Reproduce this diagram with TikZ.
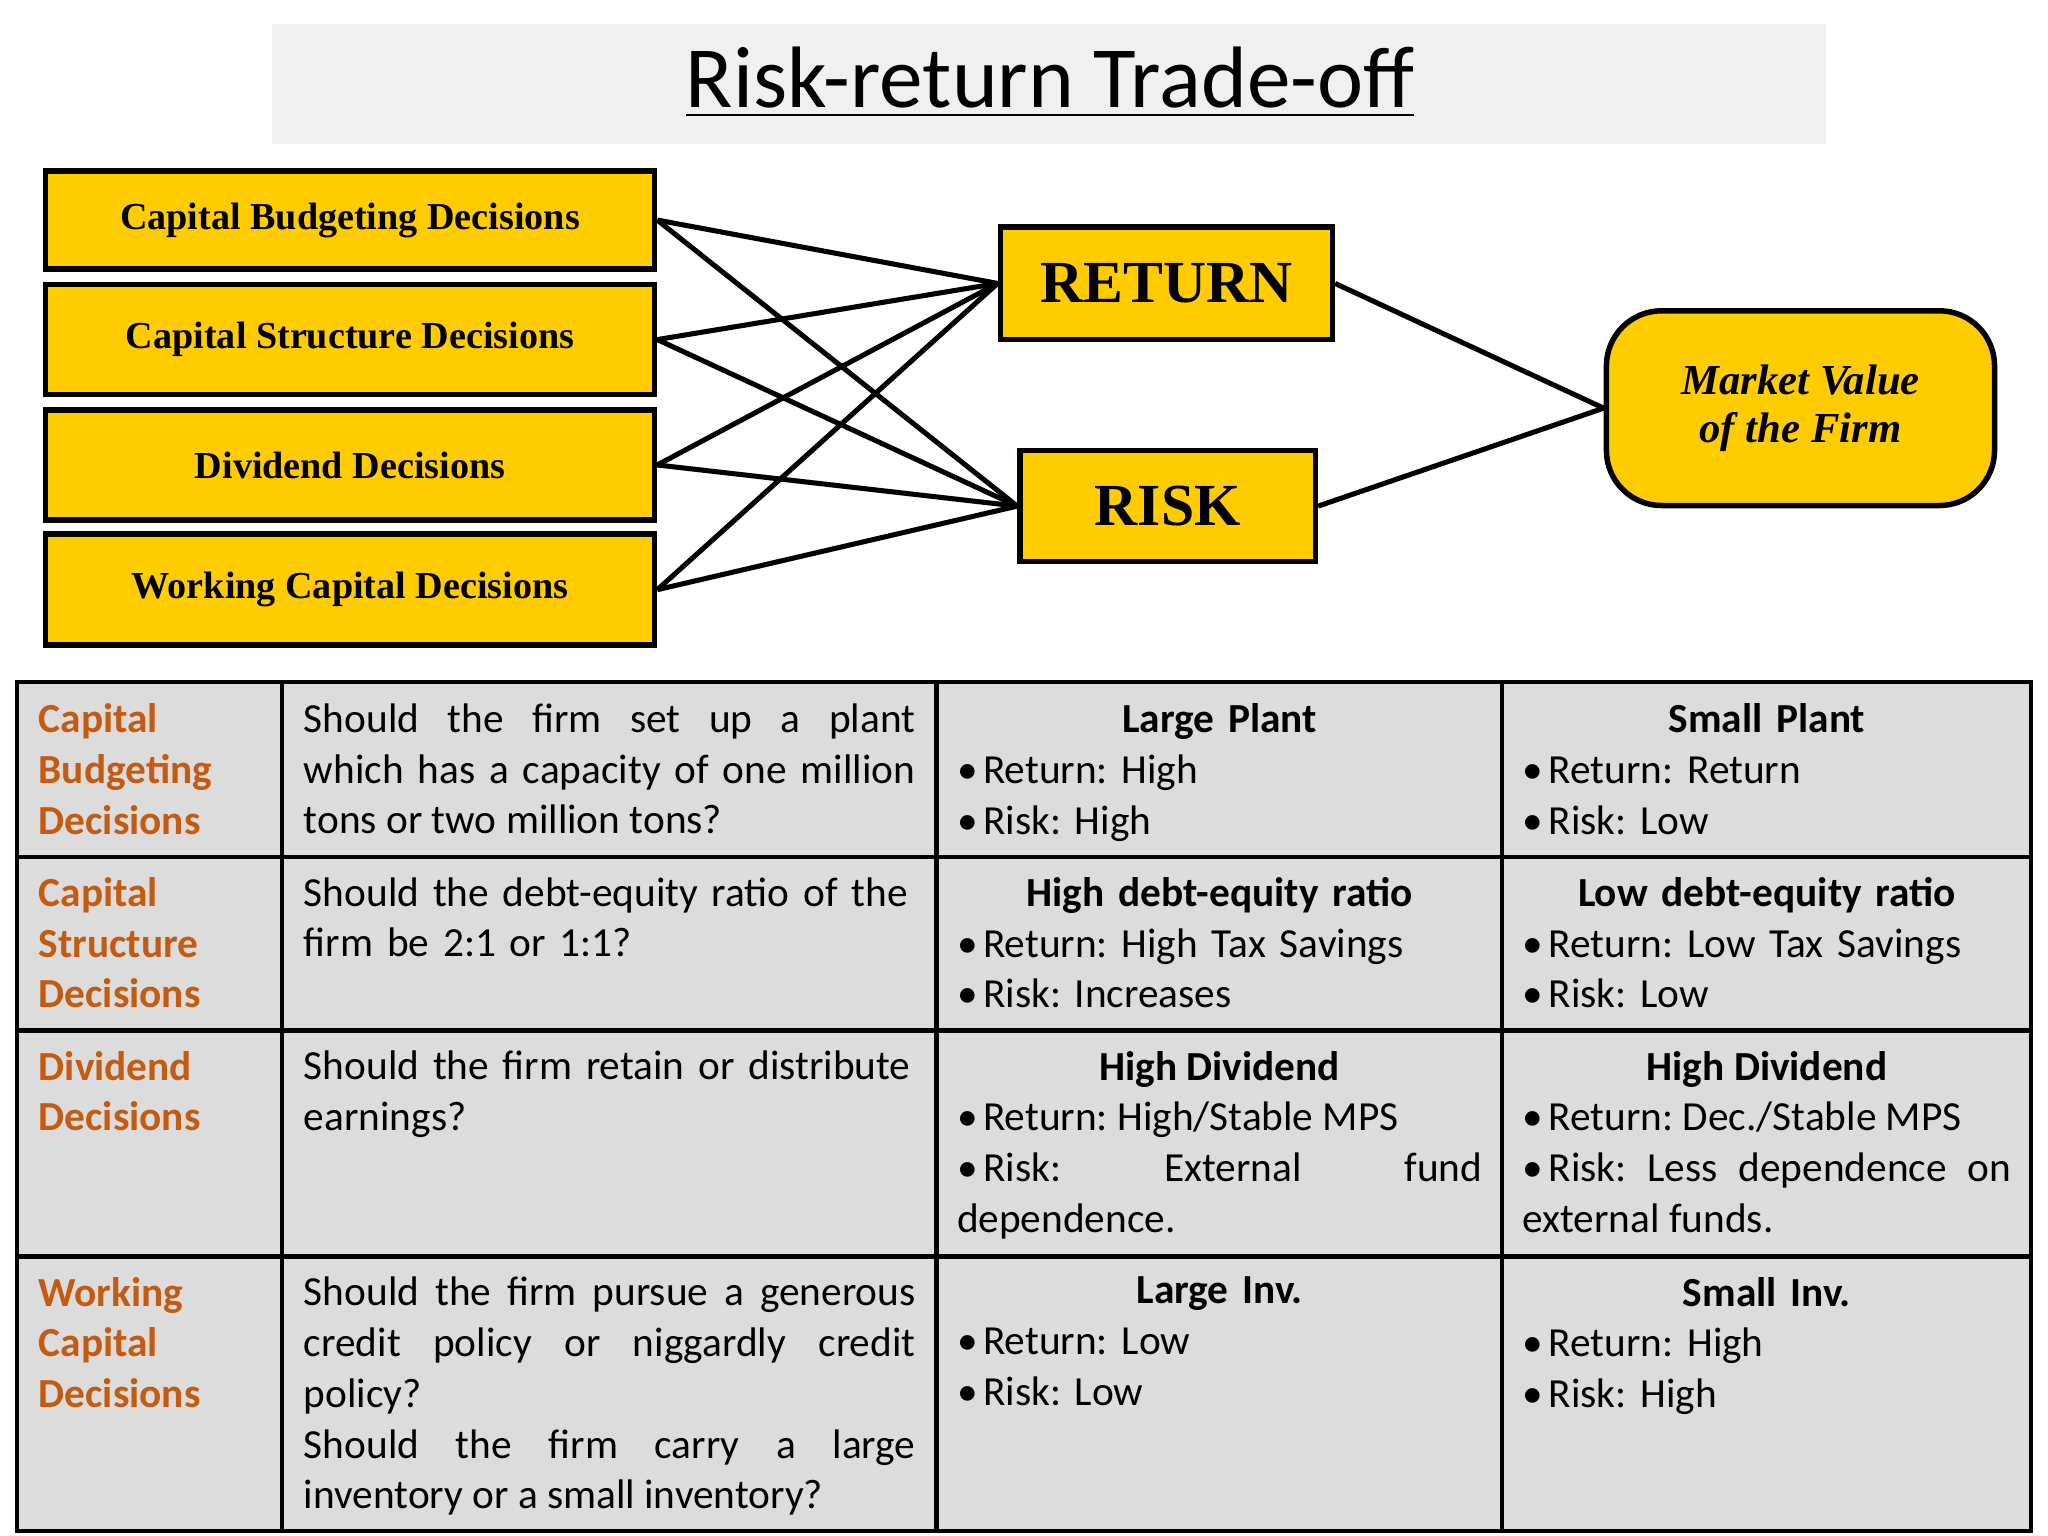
\documentclass[tikz,border=0pt]{standalone}
\usepackage{fontspec}
\setmainfont{Carlito}
\newfontfamily\boxfont{Liberation Serif}
\usetikzlibrary{positioning}
\definecolor{ybox}{HTML}{FFCC00}
\definecolor{cellgray}{HTML}{DCDCDD}
\definecolor{orng}{HTML}{C55A11}
\frenchspacing
\hyphenpenalty=10000 \exhyphenpenalty=10000
\newcommand{\bul}[1]{\par\hangindent=2mm\hangafter=1\noindent\makebox[2mm][l]{•}#1}
\newcommand{\hd}[1]{\noindent\makebox[\linewidth][c]{\textbf{#1}}}
\tikzset{
  ybx/.style={draw=black,line width=1.2pt,fill=ybox,inner sep=0pt,font=\boxfont\bfseries},
  conn/.style={line width=1.1pt},
  cell/.style={anchor=north west,inner sep=0pt,font=\fontsize{9}{11.06}\selectfont},
}
\begin{document}
\begin{tikzpicture}[x=0.01cm,y=-0.01cm]
\useasboundingbox (0,0) rectangle (1568,1176);
\fill[white] (0,0) rectangle (1568,1176);
% title
\fill[black!6] (208,18) rectangle (1398,110);
\node[font=\fontsize{19}{23}\selectfont] (title) at (804,63) {\underline{Risk-return Trade-off}};
% boxes
\node[ybx,minimum width=4.66cm,minimum height=0.75cm,font=\boxfont\bfseries\fontsize{8.3}{10}\selectfont] (b1) at (268,168.5) {Capital Budgeting Decisions};
\node[ybx,minimum width=4.66cm,minimum height=0.84cm,font=\boxfont\bfseries\fontsize{8.3}{10}\selectfont] (b2) at (268,260) {Capital Structure Decisions};
\node[ybx,minimum width=4.66cm,minimum height=0.84cm,font=\boxfont\bfseries\fontsize{8.3}{10}\selectfont] (b3) at (268,356) {Dividend Decisions};
\node[ybx,minimum width=4.66cm,minimum height=0.85cm,font=\boxfont\bfseries\fontsize{8.3}{10}\selectfont] (b4) at (268,451.5) {Working Capital Decisions};
\node[ybx,minimum width=2.54cm,minimum height=0.86cm,font=\boxfont\bfseries\fontsize{13}{15}\selectfont] (ret) at (893,217) {RETURN};
\node[ybx,minimum width=2.26cm,minimum height=0.85cm,font=\boxfont\bfseries\fontsize{13}{15}\selectfont] (risk) at (894,387.5) {RISK};
\node[ybx,rounded corners=12pt,minimum width=2.97cm,minimum height=1.49cm,align=center,font=\boxfont\bfseries\itshape\fontsize{9.3}{10.5}\selectfont] (mv) at (1378.5,312.5) {Market Value\\of the Firm};
\foreach \b in {b1,b2,b3,b4}{
  \draw[conn] (\b.east) -- (ret.west);
  \draw[conn] (\b.east) -- (risk.west);
}
\draw[conn] (ret.east) -- (mv.west);
\draw[conn] (risk.east) -- (mv.west);
% table
\fill[cellgray] (13,522) rectangle (1555,1172);
\draw[line width=0.9pt] (13,522) rectangle (1555,1172);
\foreach \x in {216,717,1150} \draw[line width=0.9pt] (\x,522) -- (\x,1172);
\foreach \y in {656,789,962} \draw[line width=0.9pt] (13,\y) -- (1555,\y);
% row 1
\node[cell,text width=1.8cm,text=orng,font=\bfseries\fontsize{9}{11.06}\selectfont] (r1c1) at (29,538) {Capital\\Budgeting\\Decisions};
\node[cell,text width=4.68cm,align=justify] (r1c2) at (232,538) {Should the firm set up a plant which has a capacity of one million\linebreak tons or two million tons?};
\node[cell,text width=4.02cm] (r1c3) at (732,538) {\hd{Large Plant}\bul{Return: High}\bul{Risk: High}};
\node[cell,text width=3.74cm] (r1c4) at (1165,538) {\hd{Small Plant}\bul{Return: Return}\bul{Risk: Low}};
% row 2
\node[cell,text width=1.8cm,text=orng,font=\bfseries\fontsize{9}{11.06}\selectfont] (r2c1) at (29,671) {Capital\\Structure\\Decisions};
\node[cell,text width=4.68cm] (r2c2) at (232,671) {Should the debt-equity ratio of the\\firm be 2:1 or 1:1?};
\node[cell,text width=4.02cm] (r2c3) at (732,671) {\hd{High debt-equity ratio}\bul{Return: High Tax Savings}\bul{Risk: Increases}};
\node[cell,text width=3.74cm] (r2c4) at (1165,671) {\hd{Low debt-equity ratio}\bul{Return: Low Tax Savings}\bul{Risk: Low}};
% row 3
\node[cell,text width=1.8cm,text=orng,font=\bfseries\fontsize{9}{11.06}\selectfont] (r3c1) at (29,804) {Dividend\\Decisions};
\node[cell,text width=4.68cm] (r3c2) at (232,804) {Should the firm retain or distribute\\earnings?};
\node[cell,text width=4.02cm,align=justify] (r3c3) at (732,804) {\hd{High Dividend}\bul{Return: High/Stable MPS}\bul{Risk: External fund\linebreak dependence.}};
\node[cell,text width=3.74cm,align=justify] (r3c4) at (1165,804) {\hd{High Dividend}\bul{Return: Dec./Stable MPS}\bul{Risk: Less dependence on\linebreak external funds.}};
% row 4
\node[cell,text width=1.8cm,text=orng,font=\bfseries\fontsize{9}{11.06}\selectfont] (r4c1) at (29,977) {Working\\Capital\\Decisions};
\node[cell,text width=4.68cm,align=justify] (r4c2) at (232,977) {Should the firm pursue a generous\linebreak credit policy or niggardly credit\linebreak policy?\par Should the firm carry a large\linebreak inventory or a small inventory?};
\node[cell,text width=4.02cm] (r4c3) at (732,977) {\hd{Large Inv.}\bul{Return: Low}\bul{Risk: Low}};
\node[cell,text width=3.74cm] (r4c4) at (1165,977) {\hd{Small Inv.}\bul{Return: High}\bul{Risk: High}};
\end{tikzpicture}
\end{document}
